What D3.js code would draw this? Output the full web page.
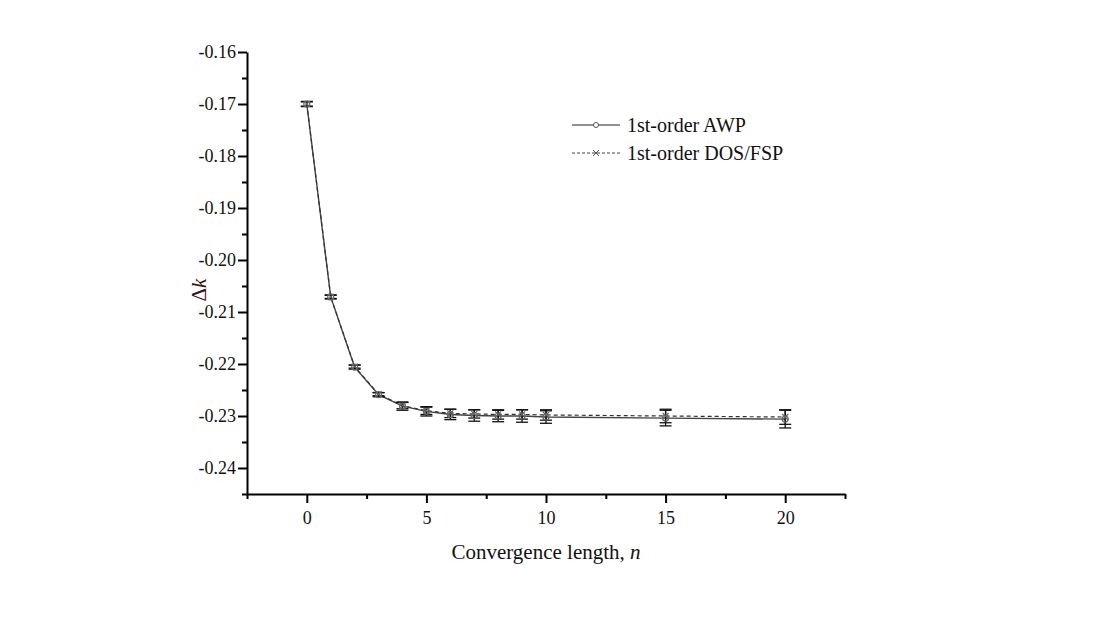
<!DOCTYPE html>
<html><head><meta charset="utf-8">
<script src="https://cdn.jsdelivr.net/npm/d3@7"></script>
<style>body{margin:0;background:#fff}svg{display:block}</style>
</head><body>
<script>
const nValues = [0,1,2,3,4,5,6,7,8,9,10,15,20];
const awpValues = [-0.1700,-0.2071,-0.2206,-0.2259,-0.2281,-0.2291,-0.2297,-0.2299,-0.2300,-0.2300,-0.2302,-0.2304,-0.2306];
const awpErrors = [0.0005,0.0004,0.0004,0.0004,0.0008,0.0009,0.0010,0.0011,0.0011,0.0012,0.0012,0.0015,0.0017];
const dosValues = [-0.1700,-0.2071,-0.2205,-0.2258,-0.2280,-0.2290,-0.2295,-0.2296,-0.2297,-0.2297,-0.2298,-0.2300,-0.2302];
const dosErrors = [0.0004,0.0003,0.0003,0.0003,0.0006,0.0007,0.0008,0.0008,0.0009,0.0009,0.0010,0.0013,0.0014];
const xTicks = [0,5,10,15,20];
const yTicks = [-0.16,-0.17,-0.18,-0.19,-0.20,-0.21,-0.22,-0.23,-0.24];
const seriesNames = ["1st-order AWP","1st-order DOS/FSP"];

const W=1111,H=636;
const svg=d3.select("body").append("svg").attr("width",W).attr("height",H);
const x=d3.scaleLinear().domain([-2.5,22.5]).range([247,845]);
const y=d3.scaleLinear().domain([-0.245,-0.16]).range([494,52]);
const font="'Liberation Serif','Times New Roman',serif";

// axes
const fmtY=d=>d.toFixed(2).replace("−","-");
const yAxis=d3.axisLeft(y).tickValues(yTicks).tickFormat(fmtY).tickSize(9).tickSizeOuter(0);
const gy=svg.append("g").attr("transform","translate(247,0)").call(yAxis);
const yMinor=d3.range(-0.165,-0.2451,-0.01);
svg.append("g").attr("transform","translate(247,0)").call(d3.axisLeft(y).tickValues(yMinor).tickFormat("").tickSize(5).tickSizeOuter(0)).select(".domain").remove();
const xAxis=d3.axisBottom(x).tickValues(xTicks).tickSize(9).tickSizeOuter(0);
const gx=svg.append("g").attr("transform","translate(0,494)").call(xAxis);
svg.append("g").attr("transform","translate(0,494)").call(d3.axisBottom(x).tickValues([-2.5,2.5,7.5,12.5,17.5,22.5]).tickFormat("").tickSize(5).tickSizeOuter(0)).select(".domain").remove();
svg.selectAll(".domain").attr("stroke","#000").attr("stroke-width",2);
svg.selectAll(".tick line").attr("stroke","#000").attr("stroke-width",2);
svg.selectAll(".tick text").attr("font-family",font).attr("font-size",18).attr("fill","#111");
gy.selectAll(".tick text").attr("x",-11);
gx.selectAll(".tick text").attr("y",17);

// labels
svg.append("text").attr("x",546).attr("y",559).attr("text-anchor","middle").attr("font-family",font).attr("font-size",21).attr("fill","#111")
  .text("Convergence length, ").append("tspan").attr("font-style","italic").text("n");
svg.append("text").attr("transform","translate(206,290) rotate(-90)").attr("text-anchor","middle").attr("font-family",font).attr("font-size",21).attr("fill","#3a1414")
  .text("Δ").append("tspan").attr("font-style","italic").text("k");

const awp=nValues.map((n,i)=>({n,v:awpValues[i],e:awpErrors[i]}));
const dos=nValues.map((n,i)=>({n,v:dosValues[i],e:dosErrors[i]}));
const line=d3.line().x(d=>x(d.n)).y(d=>y(d.v));

svg.append("path").datum(awp).attr("d",line).attr("fill","none").attr("stroke","#444").attr("stroke-width",1.4);
svg.append("path").datum(dos).attr("d",line).attr("fill","none").attr("stroke","#333").attr("stroke-width",1.2).attr("stroke-dasharray","4,3");

function errBars(data,color){
  const g=svg.append("g").attr("stroke",color).attr("stroke-width",1.3);
  data.forEach(d=>{
    const cx=x(d.n),t=y(d.v+d.e),b=y(d.v-d.e);
    g.append("line").attr("x1",cx).attr("x2",cx).attr("y1",t).attr("y2",b);
    g.append("line").attr("x1",cx-6).attr("x2",cx+6).attr("y1",t).attr("y2",t);
    g.append("line").attr("x1",cx-6).attr("x2",cx+6).attr("y1",b).attr("y2",b);
  });
}
errBars(awp,"#111");
errBars(dos,"#111");

// markers
svg.append("g").selectAll("path").data(dos).join("path")
  .attr("d",d=>`M${x(d.n)-3},${y(d.v)-3}L${x(d.n)+3},${y(d.v)+3}M${x(d.n)-3},${y(d.v)+3}L${x(d.n)+3},${y(d.v)-3}`)
  .attr("stroke","#666").attr("stroke-width",1.2);
svg.append("g").selectAll("circle").data(awp).join("circle")
  .attr("cx",d=>x(d.n)).attr("cy",d=>y(d.v)).attr("r",3).attr("fill","none").attr("stroke","#666").attr("stroke-width",1.2);

// legend
const lg=svg.append("g");
lg.append("line").attr("x1",572).attr("x2",620).attr("y1",125).attr("y2",125).attr("stroke","#222").attr("stroke-width",1.2);
lg.append("circle").attr("cx",596).attr("cy",125).attr("r",2.5).attr("fill","#fff").attr("stroke","#555").attr("stroke-width",1);
lg.append("line").attr("x1",572).attr("x2",620).attr("y1",153).attr("y2",153).attr("stroke","#444").attr("stroke-width",1).attr("stroke-dasharray","3,2");
lg.append("path").attr("d","M593,150L599,156M593,156L599,150").attr("stroke","#555").attr("stroke-width",1);
seriesNames.forEach((s,i)=>lg.append("text").attr("x",627).attr("y",132+i*28).attr("font-family",font).attr("font-size",20).attr("fill","#111").text(s));
</script>
</body></html>
